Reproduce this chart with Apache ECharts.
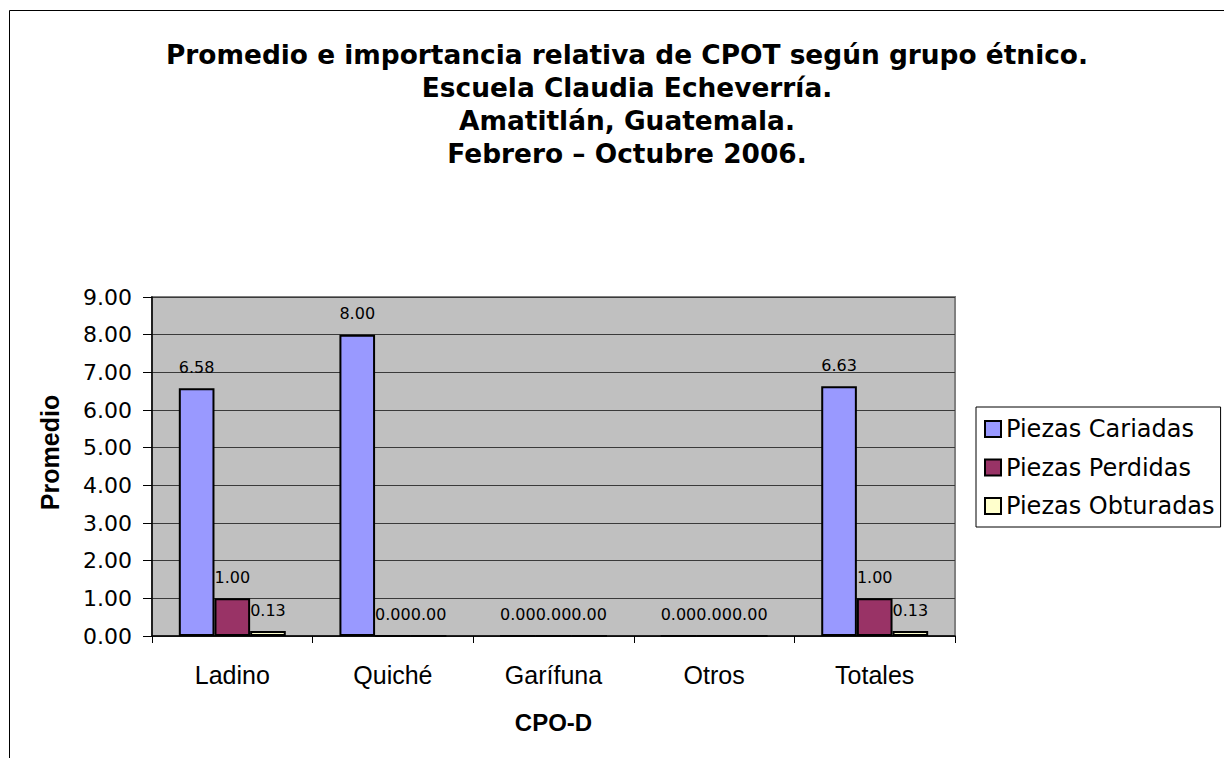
<!DOCTYPE html>
<html>
<head>
<meta charset="utf-8">
<script src="https://cdn.jsdelivr.net/npm/echarts@6/dist/echarts.min.js"></script>
<style>
  html, body { margin: 0; padding: 0; background: #fff; }
  #chart { width: 1224px; height: 758px; }
</style>
</head>
<body>
<div id="chart"></div>
<script>
const categories = ['Ladino', 'Quiché', 'Garífuna', 'Otros', 'Totales'];
const cariadas = [6.58, 8.00, 0, 0, 6.63];
const perdidas = [1.00, 0, 0, 0, 1.00];
const obturadas = [0.13, 0, 0, 0, 0.13];
const seriesNames = ['Piezas Cariadas', 'Piezas Perdidas', 'Piezas Obturadas'];
const yTicks = [0, 1, 2, 3, 4, 5, 6, 7, 8, 9];

const titleLines = [
  'Promedio e importancia relativa de CPOT según grupo étnico.',
  'Escuela Claudia Echeverría.',
  'Amatitlán, Guatemala.',
  'Febrero – Octubre 2006.'
];

const arial = 'Liberation Sans, Arial, sans-serif';
const wide = 'DejaVu Sans, sans-serif';
const colors = ['#9999FF', '#993366', '#FFFFCC'];

const chart = echarts.init(document.getElementById('chart'), null, { renderer: 'svg' });

// etiqueta de datos encima de cada barra
const barLabel = {
  show: true,
  position: 'top',
  distance: 13,
  color: '#000',
  fontFamily: wide,
  fontSize: 16,
  formatter: p => Number(p.value).toFixed(2)
};

const makeSeries = (name, data, i) => ({
  name: name,
  type: 'bar',
  data: data,
  barGap: '0%',
  barCategoryGap: '33.4%',
  itemStyle: { color: colors[i], borderColor: '#000', borderWidth: 2 },
  label: barLabel,
  emphasis: { disabled: true }
});

const option = {
  animation: false,
  backgroundColor: '#fff',
  title: {
    text: titleLines.join('\n'),
    left: 622,
    top: 33,
    textAlign: 'center',
    textStyle: {
      fontFamily: wide,
      fontWeight: 'bold',
      fontSize: 26.4,
      lineHeight: 33,
      color: '#000'
    }
  },
  graphic: [
    {
      type: 'rect',
      silent: true,
      shape: { x: 9.5, y: 10.5, width: 1400, height: 1000 },
      style: { fill: 'none', stroke: '#000', lineWidth: 1 }
    }
  ],
  legend: {
    orient: 'vertical',
    left: 976,
    top: 407,
    padding: [10, 6, 9, 8],
    itemWidth: 16,
    itemHeight: 16,
    itemGap: 14.5,
    icon: 'rect',
    borderColor: '#000',
    borderWidth: 1,
    backgroundColor: '#fff',
    data: seriesNames,
    textStyle: { fontFamily: wide, fontSize: 24, lineHeight: 24, color: '#000' }
  },
  grid: {
    left: 152,
    right: 269,
    top: 297,
    bottom: 122,
    show: true,
    backgroundColor: '#C0C0C0',
    borderColor: '#808080',
    borderWidth: 2
  },
  xAxis: {
    type: 'category',
    data: categories,
    name: 'CPO-D',
    nameLocation: 'middle',
    nameGap: 74,
    nameTextStyle: { fontFamily: arial, fontWeight: 'bold', fontSize: 24, color: '#000' },
    axisLine: { lineStyle: { color: '#000', width: 1.5 } },
    axisTick: { show: true, length: 7, lineStyle: { color: '#000' } },
    axisLabel: { margin: 26, fontFamily: arial, fontSize: 25, color: '#000' }
  },
  yAxis: {
    type: 'value',
    min: yTicks[0],
    max: yTicks[yTicks.length - 1],
    interval: 1,
    name: 'Promedio',
    nameLocation: 'middle',
    nameGap: 90,
    nameTextStyle: {
      fontFamily: arial,
      fontWeight: 'bold',
      fontSize: 25,
      color: '#000',
      padding: [0, 0, 0, 28]
    },
    axisLine: { show: true, lineStyle: { color: '#000', width: 1.5 } },
    axisTick: { show: true, length: 9, lineStyle: { color: '#000' } },
    axisLabel: {
      margin: 20,
      fontFamily: wide,
      fontSize: 22,
      color: '#000',
      formatter: v => v.toFixed(2)
    },
    splitLine: { show: true, lineStyle: { color: '#3a3a3a', width: 1 } }
  },
  series: [
    makeSeries(seriesNames[0], cariadas, 0),
    makeSeries(seriesNames[1], perdidas, 1),
    makeSeries(seriesNames[2], obturadas, 2)
  ]
};

chart.setOption(option);
</script>
</body>
</html>
